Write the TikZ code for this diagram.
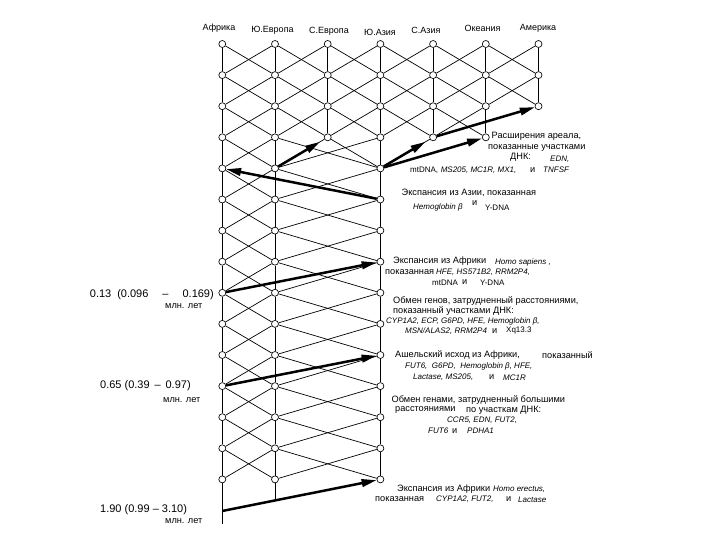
\documentclass[tikz,border=0pt]{standalone}
\usepackage{fontspec}
\setmainfont{Liberation Sans}
\usetikzlibrary{arrows.meta}
\newcommand{\gene}[1]{{\fontsize{8}{9}\selectfont\itshape #1}}
\newcommand{\smup}[1]{{\fontsize{8}{9}\selectfont #1}}
\tikzset{
  dot/.style={circle,draw,fill=white,inner sep=0pt,minimum size=7pt,line width=0.65pt},
  lat/.style={line width=0.7pt},
  bigarrow/.style={line width=2.5pt,-{Triangle[length=15pt,width=7.5pt]}},
  lab/.style={inner sep=0pt,font=\fontsize{9}{10}\selectfont},
  txt/.style={inner sep=0pt,anchor=west,font=\fontsize{9.2}{10}\selectfont},
  big/.style={inner sep=0pt,font=\fontsize{11}{12}\selectfont},
}
\begin{document}
\begin{tikzpicture}[x=1pt,y=-1pt]
\useasboundingbox (0,0) rectangle (720,540);
\fill[white] (0,0) rectangle (720,540);

% lattice nodes
\foreach \i/\last in {0/14,1/14,2/3,3/14,4/3,5/3,6/2}{
  \foreach \j in {0,...,\last}{
    \node[dot] (n-\i-\j) at ({222.3+52.7*\i},{44+31.1*\j}) {};
  }
}
\coordinate (afEnd) at (222.3,524);
\coordinate (euEnd) at (275,500.5);
\coordinate (erStart) at (222.3,511);

% verticals
\foreach \i/\last in {0/13,1/13,2/2,3/13,4/2,5/2,6/1}{
  \foreach \j in {0,...,\last}{
    \pgfmathtruncatemacro\k{\j+1}
    \draw[lat] (n-\i-\j) -- (n-\i-\k);
  }
}
\draw[lat] (n-0-14) -- (afEnd);
\draw[lat] (n-1-14) -- (euEnd);

% upper diagonals
\foreach \i in {0,...,4}{
  \pgfmathtruncatemacro\ii{\i+1}
  \foreach \j in {0,1,2}{
    \pgfmathtruncatemacro\k{\j+1}
    \draw[lat] (n-\i-\j) -- (n-\ii-\k);
    \draw[lat] (n-\ii-\j) -- (n-\i-\k);
  }
}
\foreach \j in {0,1}{
  \pgfmathtruncatemacro\k{\j+1}
  \draw[lat] (n-5-\j) -- (n-6-\k);
  \draw[lat] (n-6-\j) -- (n-5-\k);
}
% transition
\draw[lat] (n-2-3) -- (n-1-4);
\draw[lat] (n-2-3) -- (n-3-4);
\draw[lat] (n-4-3) -- (n-3-4);
% lower diagonals
\foreach \j in {3,...,13}{
  \pgfmathtruncatemacro\k{\j+1}
  \draw[lat] (n-0-\j) -- (n-1-\k);
  \draw[lat] (n-1-\j) -- (n-0-\k);
  \draw[lat] (n-1-\j) -- (n-3-\k);
  \draw[lat] (n-3-\j) -- (n-1-\k);
}

% thick arrows
\draw[bigarrow] (n-4-3) -- (n-6-2);
\draw[bigarrow,shorten >=5pt] (n-3-4) -- (n-4-3);
\draw[bigarrow] (n-3-4) -- (n-5-3);
\draw[bigarrow,shorten >=5pt] (n-1-4) -- (n-2-3);
\draw[bigarrow] (n-3-5) -- (n-0-4);
\draw[bigarrow] (n-0-8) -- (n-3-7);
\draw[bigarrow] (n-0-11) -- (n-3-10);
\draw[bigarrow] (erStart) -- (n-3-14);

% column labels
\node[lab] (ta) at (219,28) {Африка};
\node[lab] (tb) at (272.5,30) {Ю.Европа};
\node[lab] (tc) at (329,31.5) {С.Европа};
\node[lab] (td) at (380,32.5) {Ю.Азия};
\node[lab] (te) at (426,30.5) {С.Азия};
\node[lab] (tf) at (482.5,28.5) {Океания};
\node[lab] (tg) at (538,28.5) {Америка};

% block 1
\node[txt] (r1) at (491.5,136) {Расширения ареала,};
\node[txt] (r2) at (488,147.5) {показанные участками};
\node[txt] (r3) at (510,157.7) {ДНК:};
\node[txt] (r4) at (550,159) {\gene{EDN,}};
\node[txt] (r5) at (410,170) {\smup{mtDNA,} \gene{MS205, MC1R, MX1,}};
\node[txt] (r6) at (530,170) {и};
\node[txt] (r7) at (543,170) {\gene{TNFSF}};

% block 2
\node[txt] (s1) at (401.5,193) {Экспансия из Азии, показанная};
\node[txt] (s2) at (413,207.5) {\gene{Hemoglobin β}};
\node[txt] (s3) at (472,203) {и};
\node[txt] (s4) at (485,207.5) {\smup{Y-DNA}};

% block 3
\node[txt] (h1) at (393,261) {Экспансия из Африки};
\node[txt] (h2) at (495,262.5) {\gene{Homo sapiens ,}};
\node[txt] (h3) at (385,272.5) {показанная};
\node[txt] (h4) at (436,272.5) {\gene{HFE, HS571B2, RRM2P4,}};
\node[txt] (h5) at (432,282.5) {\smup{mtDNA}};
\node[txt] (h6) at (462,282.5) {и};
\node[txt] (h7) at (480,282.5) {\smup{Y-DNA}};

% block 4
\node[txt] (o1) at (393,301.5) {Обмен генов, затрудненный расстояниями,};
\node[txt] (o2) at (393,311) {показанный участками ДНК:};
\node[txt] (o3) at (386,321) {\gene{CYP1A2, ECP, G6PD, HFE, Hemoglobin β,}};
\node[txt] (o4) at (405,331) {\gene{MSN/ALAS2, RRM2P4}};
\node[txt] (o5) at (492,331) {и};
\node[txt] (o6) at (506,331) {\smup{Xq13.3}};

% block 5
\node[txt] (a1) at (395,355) {Ашельский исход из Африки,};
\node[txt] (a2) at (542,355) {показанный};
\node[txt] (a3) at (405,366.5) {\gene{FUT6,\ \ G6PD,\ \ Hemoglobin β, HFE,}};
\node[txt] (a4) at (413,377.3) {\gene{Lactase, MS205,}};
\node[txt] (a5) at (489,377.3) {и};
\node[txt] (a6) at (503,377.3) {\gene{MC1R}};

% block 6
\node[txt] (b1) at (391.5,400) {Обмен генами, затрудненный большими};
\node[txt] (b2) at (395,410) {расстояниями};
\node[txt] (b3) at (466,410) {по участкам ДНК:};
\node[txt] (b4) at (447,420.7) {\gene{CCR5, EDN, FUT2,}};
\node[txt] (b5) at (428,430.7) {\gene{FUT6}};
\node[txt] (b6) at (452,430.7) {и};
\node[txt] (b7) at (467,430.7) {\gene{PDHA1}};

% block 7
\node[txt] (e1) at (397,489) {Экспансия из Африки};
\node[txt] (e2) at (493,489.5) {\gene{Homo erectus,}};
\node[txt] (e3) at (375,499.5) {показанная};
\node[txt] (e4) at (436,499.5) {\gene{CYP1A2, FUT2,}};
\node[txt] (e5) at (506,499.5) {и};
\node[txt] (e6) at (518,499.5) {\gene{Lactase}};

% time labels
\node[big,anchor=east] (l1) at (214,295) {0.13\hspace{6pt}(0.096\hspace{14pt}–\hspace{14pt}0.169)};
\node[txt] (l2) at (165,306.5) {млн. лет};
\node[big,anchor=west] (l3) at (100,386) {0.65 (0.39 \,–\, 0.97)};
\node[txt] (l4) at (163,400) {млн. лет};
\node[big,anchor=west] (l5) at (100,510) {1.90 (0.99 – 3.10)};
\node[txt] (l6) at (165,521) {млн. лет};
\end{tikzpicture}
\end{document}
